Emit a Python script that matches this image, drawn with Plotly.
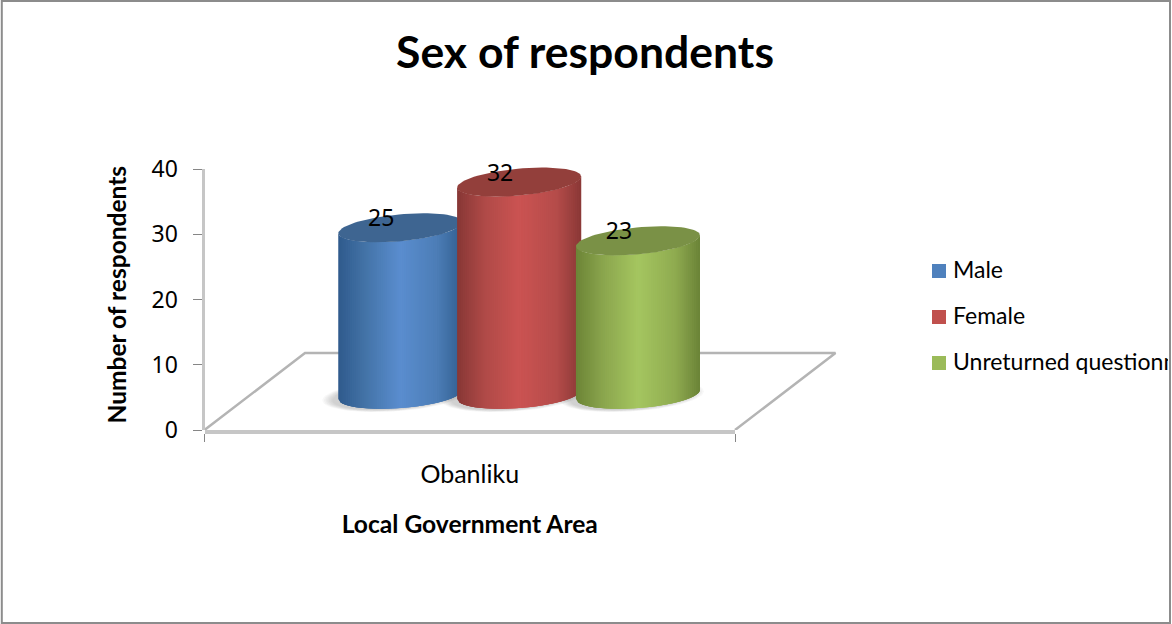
import numpy as np
import plotly.graph_objects as go

# Chart content
title_text = "Sex of respondents"
category = "Obanliku"
x_title = "Local Government Area"
y_title = "Number of respondents"
series_names = ["Male", "Female", "Unreturned questionnaire"]
series_values = [25, 32, 23]
y_ticks = [0, 10, 20, 30, 40]

# Shading of each cylinder: edge, shoulder, centre, shoulder, edge, lid
blue_shades = ["#2f5a8c", "#4474a8", "#5a8dcf", "#4c7db6", "#325e90", "#3e6591"]
red_shades = ["#873735", "#b04a48", "#cb5352", "#b54c4a", "#8a3836", "#933f3b"]
green_shades = ["#6c8436", "#8ba64e", "#a5c660", "#8fab50", "#6b8337", "#7a9146"]
series_shades = [blue_shades, red_shades, green_shades]
legend_colors = ["#4f81bd", "#c0504d", "#9bbb59"]

FONT = "Lato"
DIGIT_FONT = "Noto Sans"
GRID_GRAY = "#c6c6c6"
TICK_GRAY = "#868686"
WIDTH, HEIGHT = 1172, 624

# Plot window in page pixels
PLOT_L, PLOT_R, PLOT_T, PLOT_B = 204.5, 735.0, 169.0, 430.0
FLOOR_R = 845.0
X_SCALE = PLOT_R - PLOT_L
Y_SCALE = (PLOT_B - PLOT_T) / 40.0
# The cylinders' axis runs past 40 so the tallest lid is not trimmed
MARK_Y_MAX = 45.0

# Pseudo-3D geometry, in axis units
DEPTH_X = 100.5 / X_SCALE
DEPTH_Y = 77.0 / Y_SCALE
FIRST_CENTER = 0.369
CENTER_STEP = 0.224
RADIUS_X = 62.0 / X_SCALE
RADIUS_Y = 13.5 / Y_SCALE
SHEAR_TOP = 5.5 / Y_SCALE
SHEAR_BOTTOM = 4.5 / Y_SCALE
BASE_Y = 5.44
TOP_LIFT = 0.55
LABEL_LIFT = 7.1
LABEL_SHIFT = 19.0 / X_SCALE
STRIPS = 64


def rgb(color):
    return np.array([int(color[i:i + 2], 16) for i in (1, 3, 5)], dtype=float)


def shade_at(u, shades):
    stops = [-1.0, -0.55, 0.0, 0.6, 1.0]
    channels = [np.interp(u, stops, [rgb(c)[k] for c in shades[:5]]) for k in range(3)]
    return "rgb({:.0f},{:.0f},{:.0f})".format(*channels)


def rim(u, center_y, sign, shear):
    # y of the elliptical rim at u in [-1, 1]; sign -1 is the near side
    return center_y + shear * u + sign * RADIUS_Y * np.sqrt(np.clip(1 - u ** 2, 0, 1))


def polygon(xs, ys, color):
    return go.Scatter(
        x=xs, y=ys, xaxis="x2", yaxis="y2", mode="lines", fill="toself", fillcolor=color,
        line=dict(color="rgba(0,0,0,0)", width=0),
        hoverinfo="skip", showlegend=False, cliponaxis=False,
    )


fig = go.Figure()

# Floor of the 3D plot on a wider hidden axis: left side, back edge, right side
fig.add_trace(go.Scatter(
    x=[0, DEPTH_X, 1 + DEPTH_X, 1], y=[0, DEPTH_Y, DEPTH_Y, 0],
    xaxis="x", yaxis="y", mode="lines", line=dict(color="#b4b4b4", width=2.5),
    hoverinfo="skip", showlegend=False,
))

# Soft shadows cast on the floor
theta = np.linspace(0, 2 * np.pi, 80)
for i in range(len(series_values)):
    cx = FIRST_CENTER + i * CENTER_STEP
    for grow in np.linspace(1.16, 1.0, 7):
        fig.add_trace(polygon(
            cx - 6 / X_SCALE + RADIUS_X * grow * np.cos(theta),
            BASE_Y - 0.2 + RADIUS_Y * grow * np.sin(theta) + SHEAR_BOTTOM * np.cos(theta),
            "rgba(90,90,90,0.045)",
        ))

# Cylinders: overlapping vertical strips painted left to right, then the darker lid
for i, (value, shades) in enumerate(zip(series_values, series_shades)):
    cx = FIRST_CENTER + i * CENTER_STEP
    top_y = BASE_Y + TOP_LIFT + value
    edges = np.linspace(-1, 1, STRIPS + 1)
    step = edges[1] - edges[0]
    for left in edges[:-1]:
        u = np.linspace(left, min(left + 3 * step, 1.0), 6)
        xs = np.concatenate([cx + RADIUS_X * u, cx + RADIUS_X * u[::-1]])
        ys = np.concatenate([
            rim(u, BASE_Y, -1, SHEAR_BOTTOM),
            rim(u[::-1], top_y, -1, SHEAR_TOP),
        ])
        fig.add_trace(polygon(xs, ys, shade_at(left + step / 2, shades)))
    fig.add_trace(polygon(
        cx + RADIUS_X * np.cos(theta),
        top_y + RADIUS_Y * np.sin(theta) + SHEAR_TOP * np.cos(theta),
        shades[5],
    ))

# Value labels
for i, value in enumerate(series_values):
    fig.add_trace(go.Scatter(
        x=[FIRST_CENTER + i * CENTER_STEP - LABEL_SHIFT], y=[value + LABEL_LIFT],
        xaxis="x2", yaxis="y2",
        mode="text", text=[str(value)], textposition="middle center",
        textfont=dict(family=DIGIT_FONT, size=23, color="#000000"),
        hoverinfo="skip", showlegend=False, cliponaxis=False,
    ))

# Key on its own axes, so a long entry is cut off at the chart border
for rank, (name, color) in enumerate(zip(series_names, legend_colors)):
    fig.add_trace(go.Scatter(
        x=[0], y=[-rank], xaxis="x3", yaxis="y3", mode="markers",
        marker=dict(symbol="square", size=14, color=color, line=dict(width=0)),
        hoverinfo="skip", showlegend=False,
    ))
    fig.add_trace(go.Scatter(
        x=[14], y=[-rank - 0.03], xaxis="x3", yaxis="y3",
        mode="text", text=[name], textposition="middle right",
        textfont=dict(family=FONT, size=23, color="#000000"),
        hoverinfo="skip", showlegend=False, cliponaxis=True,
    ))

fig.update_layout(
    width=WIDTH, height=HEIGHT, autosize=False,
    margin=dict(l=0, r=0, t=0, b=0, autoexpand=False),
    paper_bgcolor="#ffffff", plot_bgcolor="rgba(0,0,0,0)",
    showlegend=False,
    font=dict(family=FONT, color="#000000"),
    title=dict(
        text=title_text, x=585 / WIDTH, y=1 - 52 / HEIGHT,
        xanchor="center", yanchor="middle",
        font=dict(family=FONT, size=44.5, weight=700, color="#000000"),
    ),
    xaxis=dict(
        domain=[PLOT_L / WIDTH, FLOOR_R / WIDTH],
        range=[0, (FLOOR_R - PLOT_L) / X_SCALE], visible=False, anchor="y",
    ),
    xaxis2=dict(
        domain=[PLOT_L / WIDTH, PLOT_R / WIDTH], range=[0, 1], zeroline=False, anchor="y2",
        showgrid=False, showline=True, linecolor=GRID_GRAY, linewidth=4,
        tickmode="array", tickvals=[0.5], ticktext=[category], ticks="",
        ticklabelstandoff=19,
        tickfont=dict(family=FONT, size=25),
        minor=dict(tickmode="array", tickvals=[0, 1], ticks="outside",
                   ticklen=8, tickwidth=1, tickcolor=TICK_GRAY, showgrid=False),
        title=dict(text=x_title, standoff=30,
                   font=dict(family=FONT, size=24.6, weight=700)),
    ),
    yaxis=dict(
        domain=[1 - PLOT_B / HEIGHT, 1 - PLOT_T / HEIGHT], range=[0, 40], zeroline=False,
        showgrid=False, showline=True, linecolor=GRID_GRAY, linewidth=3, anchor="x",
        tickmode="array", tickvals=y_ticks, ticks="outside",
        ticklen=9, tickwidth=1, tickcolor=TICK_GRAY, ticklabelstandoff=10,
        tickfont=dict(family=DIGIT_FONT, size=23),
    ),
    yaxis2=dict(
        domain=[1 - PLOT_B / HEIGHT, 1 - (PLOT_B - MARK_Y_MAX * Y_SCALE) / HEIGHT],
        range=[0, MARK_Y_MAX], visible=False, anchor="x2",
    ),
    xaxis3=dict(domain=[920 / WIDTH, 1168 / WIDTH], range=[-19, 229], visible=False, anchor="y3"),
    yaxis3=dict(domain=[1 - 386 / HEIGHT, 1 - 248 / HEIGHT], range=[-2.5, 0.5], visible=False, anchor="x3"),
    annotations=[dict(
        text=y_title, xref="paper", yref="paper", x=116 / WIDTH, y=1 - 294.5 / HEIGHT,
        textangle=-90, showarrow=False, xanchor="center", yanchor="middle",
        font=dict(family=FONT, size=24.5, weight=700, color="#000000"),
    )],
    shapes=[dict(
        type="rect", xref="paper", yref="paper",
        x0=1.8 / WIDTH, x1=1170 / WIDTH, y0=1 - 623 / HEIGHT, y1=1 - 1 / HEIGHT,
        line=dict(color="#8c8c8c", width=2), layer="below",
    )],
)

fig.write_html("out.html")
